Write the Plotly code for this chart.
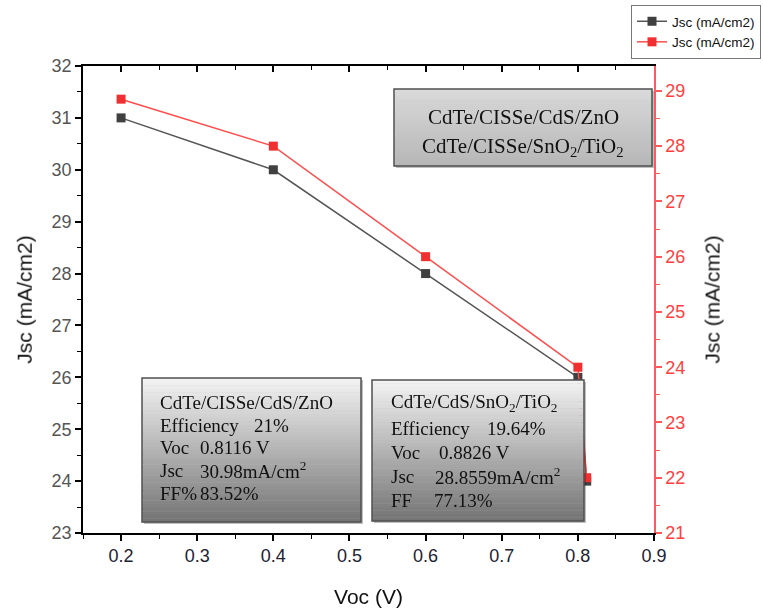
import plotly.graph_objects as go

# ---------------- data ----------------
voc = [0.2, 0.4, 0.6, 0.8, 0.8116]
jsc_black = [31.0, 30.0, 28.0, 26.0, 24.0]
jsc_red = [28.85, 28.0, 26.0, 24.0, 22.0]
series_name = "Jsc (mA/cm2)"

box1_lines = ["CdTe/CISSe/CdS/ZnO", "CdTe/CISSe/SnO<sub>2</sub>/TiO<sub>2</sub>"]
box2_rows = [("CdTe/CISSe/CdS/ZnO", ""), ("Efficiency", "21%"), ("Voc", "0.8116 V"),
             ("Jsc", "30.98mA/cm<sup>2</sup>"), ("FF%", "83.52%")]
box3_rows = [("CdTe/CdS/SnO<sub>2</sub>/TiO<sub>2</sub>", ""), ("Efficiency", "19.64%"),
             ("Voc", "0.8826 V"), ("Jsc", "28.8559mA/cm<sup>2</sup>"), ("FF", "77.13%")]

# ---------------- layout helpers (pixel -> paper) ----------------
W, H = 763, 612
L, R, T, B = 83, 654, 66, 533


def px(x):
    return (x - L) / (R - L)


def py(y):
    return (B - y) / (B - T)


def hexmix(c1, c2, t):
    a = [int(c1[i:i + 2], 16) for i in (1, 3, 5)]
    b = [int(c2[i:i + 2], 16) for i in (1, 3, 5)]
    m = [round(a[k] + (b[k] - a[k]) * t) for k in range(3)]
    return "#%02x%02x%02x" % tuple(m)


shapes = []


def gradient_box(x0, y0, x1, y1, ctop, cbot, n=40):
    # shadow
    shapes.append(dict(type="rect", xref="paper", yref="paper", layer="above",
                       x0=px(x0 + 2), x1=px(x1 + 2), y0=py(y0 + 2), y1=py(y1 + 2),
                       line=dict(width=0), fillcolor="rgba(0,0,0,0.25)"))
    h = (y1 - y0) / n
    for i in range(n):
        shapes.append(dict(type="rect", xref="paper", yref="paper", layer="above",
                           x0=px(x0), x1=px(x1), y0=py(y0 + i * h), y1=py(y0 + (i + 1) * h + 0.3),
                           line=dict(width=0), fillcolor=hexmix(ctop, cbot, (i + 0.5) / n)))
    shapes.append(dict(type="rect", xref="paper", yref="paper", layer="above",
                       x0=px(x0), x1=px(x1), y0=py(y0), y1=py(y1),
                       line=dict(width=1.5, color="#505050"), fillcolor="rgba(0,0,0,0)"))


gradient_box(394, 89, 652, 166, "#dadada", "#b6b6b6")
gradient_box(142, 378, 361, 522, "#f4f4f4", "#737373")
gradient_box(372, 380, 584, 521, "#f4f4f4", "#737373")

annotations = []
serif = "Liberation Serif, Times New Roman, serif"
for i, t in enumerate(box1_lines):
    annotations.append(dict(xref="paper", yref="paper", x=px(523), y=py([117, 147][i]),
                            text=t, showarrow=False, xanchor="center", yanchor="middle",
                            font=dict(family=serif, size=21, color="#111111")))

FS = 19
rows2_y = [402, 425, 447, 470, 493]
vals2_x = [None, 252, 198, 198, 198]
for i, (lab, val) in enumerate(box2_rows):
    annotations.append(dict(xref="paper", yref="paper", x=px(158), y=py(rows2_y[i]), text=lab,
                            showarrow=False, xanchor="left", yanchor="middle",
                            font=dict(family=serif, size=FS, color="#111111")))
    if val:
        annotations.append(dict(xref="paper", yref="paper", x=px(vals2_x[i]), y=py(rows2_y[i]), text=val,
                                showarrow=False, xanchor="left", yanchor="middle",
                                font=dict(family=serif, size=FS, color="#111111")))

rows3_y = [403, 428, 452, 476, 500]
vals3_x = [None, 485, 437, 433, 432]
for i, (lab, val) in enumerate(box3_rows):
    annotations.append(dict(xref="paper", yref="paper", x=px(389), y=py(rows3_y[i]), text=lab,
                            showarrow=False, xanchor="left", yanchor="middle",
                            font=dict(family=serif, size=FS, color="#111111")))
    if val:
        annotations.append(dict(xref="paper", yref="paper", x=px(vals3_x[i]), y=py(rows3_y[i]), text=val,
                                showarrow=False, xanchor="left", yanchor="middle",
                                font=dict(family=serif, size=FS, color="#111111")))

# ---------------- figure ----------------
fig = go.Figure()
fig.add_trace(go.Scatter(x=voc, y=jsc_black, name=series_name, mode="lines+markers",
                         line=dict(color="#555555", width=1.5),
                         marker=dict(symbol="square", size=9, color="#404040"),
                         xaxis="x", yaxis="y"))
fig.add_trace(go.Scatter(x=voc, y=jsc_red, name=series_name, mode="lines+markers",
                         line=dict(color="#ff4d4d", width=1.5),
                         marker=dict(symbol="square", size=9, color="#f03030"),
                         xaxis="x", yaxis="y2"))
# invisible helper trace so the top (mirror) axis with inward ticks is drawn
fig.add_trace(go.Scatter(x=voc, y=jsc_black, mode="markers", opacity=0, showlegend=False,
                         hoverinfo="skip", xaxis="x2", yaxis="y"))

fig.update_layout(
    width=W, height=H,
    margin=dict(l=L, r=W - R, t=T, b=H - B, autoexpand=False),
    paper_bgcolor="white", plot_bgcolor="white",
    font=dict(family="Arial, Liberation Sans, sans-serif"),
    shapes=shapes, annotations=annotations,
    legend=dict(x=px(761), y=py(5), xanchor="right", yanchor="top",
                bgcolor="white", bordercolor="#777777", borderwidth=1,
                font=dict(size=13.5, color="#111111"), tracegroupgap=0,
                itemwidth=30),
    xaxis=dict(range=[0.15, 0.9], dtick=0.1, tick0=0.2, showgrid=False, zeroline=False,
               automargin=False,
               showline=True, linecolor="black", linewidth=1.5,
               ticks="outside", ticklen=6, tickwidth=1.5, tickcolor="black",
               minor=dict(ticks="outside", dtick=0.05, tick0=0.15, ticklen=4, tickcolor="black", tickwidth=1.2),
               tickfont=dict(size=18, color="#222233"),
               title=dict(text="Voc (V)", font=dict(size=21, color="#111111"), standoff=24)),
    xaxis2=dict(overlaying="x", matches="x", side="top", anchor="y", showticklabels=False,
                automargin=False,
                showgrid=False, zeroline=False, showline=True, linecolor="black", linewidth=1.5,
                ticks="inside", ticklen=6, tickwidth=1.5, tickcolor="black", dtick=0.1, tick0=0.2,
                minor=dict(ticks="inside", dtick=0.05, tick0=0.15, ticklen=4, tickcolor="black", tickwidth=1.2)),
    yaxis=dict(range=[23, 32], dtick=1, showgrid=False, zeroline=False,
               automargin=False,
               showline=True, linecolor="black", linewidth=1.5,
               ticks="outside", ticklen=6, tickwidth=1.5, tickcolor="black",
               minor=dict(ticks="outside", dtick=0.5, ticklen=4, tickcolor="black", tickwidth=1.2),
               tickfont=dict(size=18, color="#555555"),
               title=dict(text="Jsc (mA/cm2)", font=dict(size=21, color="#111111"), standoff=14)),
    yaxis2=dict(overlaying="y", side="right", anchor="x", range=[21, 29.45], dtick=1,
                automargin=False,
                showgrid=False, zeroline=False, showline=True, linecolor="#ff5a5a", linewidth=1.5,
                ticks="outside", ticklen=6, tickwidth=1.5, tickcolor="#ff5a5a",
                minor=dict(ticks="outside", dtick=0.5, ticklen=4, tickcolor="#ff5a5a", tickwidth=1.2),
                tickfont=dict(size=18, color="#ff4040"),
                title=dict(text="Jsc (mA/cm2)", font=dict(size=21, color="#111111"), standoff=20)),
)

fig.write_html("out.html")
